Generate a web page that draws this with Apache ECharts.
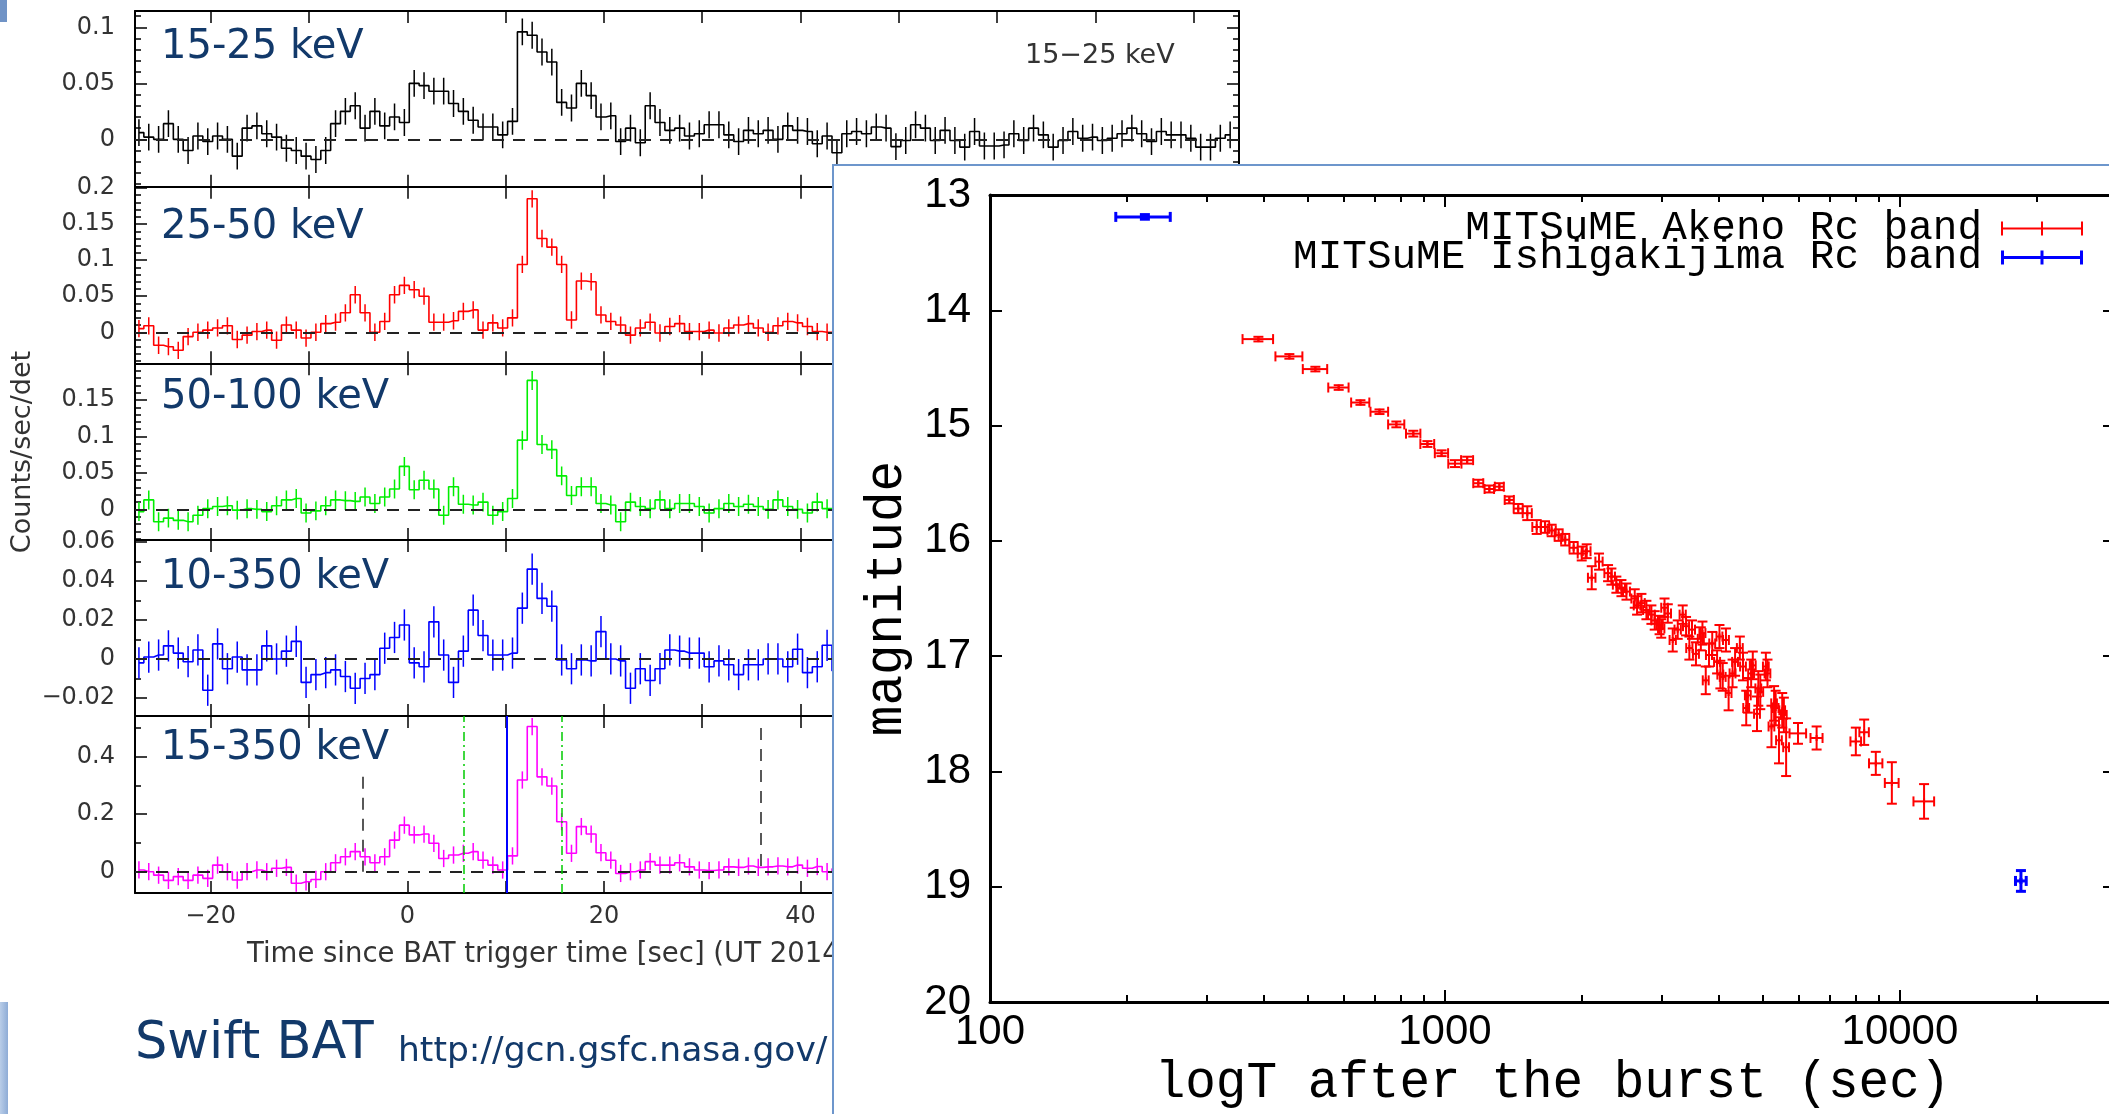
<!DOCTYPE html>
<html><head><meta charset="utf-8">
<script src="https://cdn.jsdelivr.net/npm/echarts@6/dist/echarts.min.js"></script>
<style>html,body{margin:0;padding:0;background:#fff}#c{width:2109px;height:1114px}</style>
</head><body><div id="c"></div>
<script>
// ---------------- Swift BAT light curves (1 s bins) ----------------
const firstBinCenter = -27.3;   // sec, centre of first bin
const binWidth = 1;             // sec
const batTimeMin = -27.7, batTimeMax = 84.6;
const batTimeTicks = [-20, -10, 0, 10, 20, 30, 40, 50, 60, 70, 80];
const batTimeLabels = [-20, 0, 20, 40, 60, 80];

const bat15_25 = [0.006, 0.002, 0.0, 0.014, 0.0, -0.01, 0.003, -0.002, 0.003, 0.0, -0.015, 0.01, 0.012, 0.005, 0.002, -0.008, -0.01, -0.015, -0.018, -0.01, 0.014, 0.025, 0.03, 0.01, 0.025, 0.012, 0.02, 0.015,
  0.05, 0.048, 0.043, 0.043, 0.032, 0.025, 0.017, 0.011, 0.011, 0.004, 0.016, 0.096, 0.093, 0.078, 0.069, 0.033, 0.028, 0.05, 0.039, 0.02, 0.021, -0.002, 0.01, -0.003, 0.03, 0.015, 0.008, 0.01, 0.003, 0.005, 0.013, 0.013, 0.004, -0.002, 0.008, 0.005, 0.008, 0.0, 0.012, 0.008, 0.007, -0.004, 0.003, -0.012,
  0.005, 0.007, 0.005, 0.011, 0.01, -0.0065, -0.001, 0.013, 0.01, -0.001, 0.008, -0.001, -0.007, 0.007, -0.006, -0.006, -0.005, 0.005, -0.001, 0.01, 0.004, -0.007, -0.001, 0.007, 0.001, 0.002, -0.001, 0.001, 0.005, 0.01, 0.005, -0.002, 0.007, 0.004, 0.004, 0.001, -0.007, -0.007, 0.001, 0.004];
const bat25_50 = [0.005, 0.009, -0.018, -0.02, -0.025, -0.006, 0.0, 0.003, 0.006, 0.009, -0.01, -0.004, 0.001, 0.003, -0.011, 0.01, 0.003, -0.008, 0.0, 0.012, 0.014, 0.027, 0.052, 0.027, 0.0, 0.015, 0.052, 0.065, 0.059, 0.05, 0.014, 0.014, 0.016, 0.029, 0.031, 0.003, 0.013, 0.006, 0.02, 0.094, 0.185, 0.13, 0.118, 0.094, 0.017, 0.071, 0.07, 0.024, 0.015, 0.01, -0.004, 0.006, 0.014, -0.001, 0.008, 0.012, 0.001, 0.001, 0.003, -0.001, 0.006, 0.01, 0.012, 0.006, 0.0, 0.009, 0.015, 0.013, 0.008, 0.001, 0.0, 0.002];
const bat50_100 = [-0.003, 0.013, -0.017, -0.012, -0.015, -0.017, -0.008, 0.001, 0.004, 0.005, -0.001, 0.001, 0.0, -0.003, 0.005, 0.013, 0.015, -0.005, -0.002, 0.005, 0.013, 0.012, 0.011, 0.017, 0.008, 0.017, 0.028, 0.059, 0.027, 0.04, 0.028, -0.008, 0.031, 0.007, 0.006, 0.01, -0.008, -0.003, 0.015,
  0.095, 0.177, 0.089, 0.082, 0.046, 0.019, 0.031, 0.031, 0.008, 0.006, -0.017, 0.01, 0.004, 0.001, 0.013, 0.001, 0.008, 0.008, 0.004, -0.005, 0.001, 0.008, 0.004, 0.007, 0.004, 0.0, 0.013, 0.004, 0.0, -0.005, 0.01, 0.001, 0.0];
const bat10_350 = [-0.002, 0.001, 0.002, 0.0067, 0.003, -0.0014, 0.0046, -0.016, 0.0077, -0.005, 0.001, -0.0056, -0.0056, 0.0067, 0.0, 0.004, 0.009, -0.012, -0.008, -0.007, -0.0056, -0.009, -0.015, -0.01, -0.008, 0.0055, 0.011, 0.0174,
  -0.002, -0.004, 0.019, 0.002, -0.012, 0.004, 0.025, 0.012, 0.002, 0.002, 0.003, 0.026, 0.046, 0.031, 0.027, -0.0005, -0.005, -0.0005, -0.001, 0.014, 0.0, -0.001, -0.015, -0.005, -0.011, -0.005, 0.0046, 0.004, 0.003, 0.003, -0.004, -0.001, -0.003, -0.008, -0.003, -0.003, 0.0, 0.0, -0.004, 0.005, -0.007, -0.004, 0.007, -0.006];
const bat15_350 = [0.006, 0.0, -0.012, -0.03, -0.017, -0.03, -0.012, -0.023, 0.023, 0.0, -0.029, 0.0, 0.006, 0.0, 0.012, 0.015, -0.04, -0.035, -0.027, 0.0, 0.031, 0.052, 0.07, 0.052, 0.031, 0.052, 0.11, 0.162, 0.128, 0.131, 0.099, 0.046, 0.058, 0.064, 0.07, 0.04, 0.023, 0.006, 0.055,
  0.319, 0.505, 0.33, 0.298, 0.174, 0.064, 0.157, 0.131, 0.066, 0.04, -0.006, 0.0, 0.006, 0.035, 0.023, 0.023, 0.031, 0.017, 0.006, 0.004, 0.006, 0.017, 0.015, 0.02, 0.015, 0.017, 0.02, 0.017, 0.023, 0.012, 0.018, 0.0, 0.01];
const batErr = { b15_25: 0.012, b25_50: 0.012, b50_100: 0.013, b10_350: 0.008, b15_350: 0.03 };
// vertical marker lines of the 15-350 keV panel (sec)
const t90Dashed = [[-4.5, 0.33], [35.95, 0.50]];
const dashDotTimes = [5.7, 15.68];
const triggerTime = 10.07;

// ---------------- MITSuME optical light curve ----------------
const akenoT = [389, 455, 519, 584, 652, 718, 782, 852, 915, 983, 1052, 1119, 1184, 1252, 1317, 1385, 1449, 1517, 1591, 1659, 1716, 1778, 1838, 1918, 1998, 2049, 2102, 2181, 2283, 2322, 2381, 2443, 2506, 2613, 2644, 2703, 2772, 2843, 2891, 2963, 2988, 3038, 3089, 3167, 3248, 3331, 3388, 3445, 3491, 3562, 3651, 3681, 3743, 3805, 3868, 3964, 4012, 4030, 4079, 4146, 4202, 4287, 4342, 4448, 4520, 4594, 4632, 4710, 4749, 4852, 4884, 4933, 5074, 5116, 5220, 5290, 5332, 5422, 5512, 5558, 5622, 5970, 6560, 8000, 8345, 8851, 9600, 11300];
const akenoMag = [14.25, 14.40, 14.51, 14.67, 14.80, 14.88, 14.99, 15.07, 15.16, 15.24, 15.33, 15.30, 15.50, 15.55, 15.53, 15.645, 15.72, 15.76, 15.88, 15.88, 15.91, 15.95, 15.99, 16.06, 16.11, 16.09, 16.32, 16.18, 16.28, 16.31, 16.38, 16.41, 16.44, 16.50, 16.56, 16.54, 16.60, 16.64, 16.69, 16.73, 16.76, 16.58, 16.63, 16.86, 16.77, 16.64, 16.74, 16.93, 16.77, 16.98, 16.85, 16.80, 17.21, 16.99, 16.89, 17.05, 16.83, 17.16, 17.18, 16.86, 17.32, 17.15, 17.05, 16.93, 17.09, 17.45, 17.34, 17.15, 17.08, 17.50, 17.28, 17.31, 17.09, 17.15, 17.61, 17.41, 17.45, 17.73, 17.47, 17.51, 17.79, 17.67, 17.71, 17.74, 17.66, 17.93, 18.10, 18.26];
const akenoTErr = [30, 31, 32, 30, 30, 32, 32, 31, 32, 33, 35, 34, 30, 30, 30, 32, 33, 35, 35, 36, 36, 36, 38, 40, 40, 40, 40, 40, 42, 42, 42, 44, 44, 44, 44, 46, 46, 48, 48, 48, 48, 50, 50, 50, 52, 52, 52, 54, 54, 54, 56, 56, 56, 58, 58, 60, 60, 60, 60, 62, 62, 64, 64, 66, 66, 68, 68, 70, 70, 72, 72, 72, 74, 74, 76, 76, 78, 78, 80, 80, 82, 250, 200, 215, 200, 300, 335, 590];
const akenoMagErr = [0.02, 0.02, 0.02, 0.02, 0.02, 0.02, 0.025, 0.025, 0.025, 0.025, 0.03, 0.03, 0.03, 0.03, 0.03, 0.03, 0.04, 0.06, 0.06, 0.05, 0.05, 0.05, 0.05, 0.05, 0.06, 0.06, 0.1, 0.07, 0.07, 0.07, 0.07, 0.07, 0.07, 0.08, 0.08, 0.08, 0.08, 0.08, 0.08, 0.08, 0.08, 0.08, 0.08, 0.1, 0.08, 0.08, 0.08, 0.1, 0.08, 0.1, 0.1, 0.1, 0.12, 0.1, 0.1, 0.1, 0.1, 0.12, 0.12, 0.1, 0.15, 0.12, 0.12, 0.1, 0.12, 0.15, 0.15, 0.12, 0.12, 0.15, 0.15, 0.15, 0.12, 0.12, 0.18, 0.15, 0.15, 0.2, 0.15, 0.15, 0.25, 0.09, 0.1, 0.12, 0.11, 0.1, 0.18, 0.15];
const ishiT = [219, 18450];
const ishiMag = [13.19, 18.95];
const ishiTErr = [30, 500];
const ishiMagErr = [0.02, 0.09];
const logMajor = [100, 1000, 10000];
const logMinor = [200, 300, 400, 500, 600, 700, 800, 900, 2000, 3000, 4000, 5000, 6000, 7000, 8000, 9000, 20000];

// ---------------- build ----------------
const centers = n => Array.from({length: n}, (_, i) => +(firstBinCenter + i * binWidth).toFixed(2));
const minus = v => String(v).replace('-', '\u2212');
const LBL = {fontFamily: 'DejaVu Sans', fontSize: 24, color: '#333'};

const panels = [
  {vals: bat15_25, err: batErr.b15_25, color: '#000000', top: 11, h: 175.7, min: -0.0423, max: 0.1146,
   major: [0, 0.05, 0.1], labels: [0, 0.05, 0.1], minor: [-0.04, -0.03, -0.02, -0.01, 0.01, 0.02, 0.03, 0.04, 0.06, 0.07, 0.08, 0.09, 0.11]},
  {vals: bat25_50, err: batErr.b25_50, color: '#ff0000', top: 186.7, h: 176.6, min: -0.043, max: 0.2018,
   major: [0, 0.05, 0.1, 0.15, 0.2], labels: [0, 0.05, 0.1, 0.15, 0.2], minor: [-0.04, -0.03, -0.02, -0.01, 0.01, 0.02, 0.03, 0.04, 0.06, 0.07, 0.08, 0.09, 0.11, 0.12, 0.13, 0.14, 0.16, 0.17, 0.18, 0.19]},
  {vals: bat50_100, err: batErr.b50_100, color: '#00ee00', top: 363.3, h: 176.7, min: -0.042, max: 0.2005,
   major: [0, 0.05, 0.1, 0.15, 0.2], labels: [0, 0.05, 0.1, 0.15], minor: [-0.04, -0.03, -0.02, -0.01, 0.01, 0.02, 0.03, 0.04, 0.06, 0.07, 0.08, 0.09, 0.11, 0.12, 0.13, 0.14, 0.16, 0.17, 0.18, 0.19]},
  {vals: bat10_350, err: batErr.b10_350, color: '#0000ff', top: 540, h: 176, min: -0.0292, max: 0.0609,
   major: [-0.02, 0, 0.02, 0.04, 0.06], labels: [-0.02, 0, 0.02, 0.04, 0.06], minor: [-0.01, 0.01, 0.03, 0.05]},
  {vals: bat15_350, err: batErr.b15_350, color: '#ff00ff', top: 716, h: 177, min: -0.074, max: 0.5416,
   major: [0, 0.2, 0.4], labels: [0, 0.2, 0.4], minor: [0.1, 0.3, 0.5]}
];
const bandNames = ['15-25 keV', '25-50 keV', '50-100 keV', '10-350 keV', '15-350 keV'];

const grid = [], xAxis = [], yAxis = [], series = [];
const AX = {color: '#000', width: 2};
panels.forEach((p, k) => {
  grid.push({left: 135, width: 1104, top: p.top, height: p.h, outerBoundsMode: 'none', containLabel: false});
  ['bottom', 'top'].forEach(pos => xAxis.push({
    gridIndex: k, type: 'value', min: batTimeMin, max: batTimeMax, position: pos,
    axisLine: {show: true, onZero: false, lineStyle: AX},
    axisTick: {show: true, inside: true, length: 12, customValues: batTimeTicks, lineStyle: {color: '#000', width: 1.5}},
    axisLabel: {show: pos === 'bottom' && k === 4, customValues: batTimeLabels, formatter: minus, margin: 12, ...LBL},
    splitLine: {show: false}
  }));
  [['left', true], ['left', false], ['right', true], ['right', false]].forEach(([pos, isMajor]) => yAxis.push({
    gridIndex: k, type: 'value', min: p.min, max: p.max, position: pos,
    axisLine: {show: isMajor, onZero: false, lineStyle: AX},
    axisTick: {show: true, inside: true, length: isMajor ? 12 : 6, customValues: isMajor ? p.major : p.minor, lineStyle: {color: '#000', width: 1.5}},
    axisLabel: {show: isMajor && pos === 'left', customValues: p.labels, formatter: minus, margin: 20, ...LBL},
    splitLine: {show: false}
  }));
  const ts = centers(p.vals.length);
  const markData = [{yAxis: 0, lineStyle: {type: [12, 9], color: '#222', width: 2}}];
  if (k === 4) {
    t90Dashed.forEach(([t, top]) => markData.push([{coord: [t, top], lineStyle: {type: [12, 9], color: '#222', width: 1.5}}, {coord: [t, 0]}]));
    dashDotTimes.forEach(t => markData.push({xAxis: t, lineStyle: {type: [9, 4, 2, 4], color: '#00cc00', width: 1.5}}));
    markData.push({xAxis: triggerTime, lineStyle: {type: 'solid', color: '#0000ff', width: 2}});
  }
  series.push({
    type: 'line', step: 'middle', xAxisIndex: 2 * k, yAxisIndex: 4 * k, showSymbol: false, symbol: 'none',
    data: ts.map((t, i) => [t, p.vals[i]]), lineStyle: {color: p.color, width: 1.6}, itemStyle: {color: p.color},
    markLine: {silent: true, symbol: ['none', 'none'], label: {show: false}, animation: false, data: markData}, z: 2
  });
  series.push({
    type: 'custom', xAxisIndex: 2 * k, yAxisIndex: 4 * k, clip: true, itemStyle: {color: p.color},
    data: ts.map((t, i) => [t, p.vals[i], p.err]),
    renderItem: (params, api) => {
      const t = api.value(0), v = api.value(1), e = api.value(2);
      const a = api.coord([t, v - e]), b = api.coord([t, v + e]);
      return {type: 'line', shape: {x1: a[0], y1: a[1], x2: b[0], y2: b[1]}, style: {stroke: p.color, lineWidth: 1.5}};
    }, z: 2
  });
});

// Right chart (grid 5)
grid.push({left: 990, top: 195, width: 1125, height: 807, outerBoundsMode: 'none', containLabel: false});
const RZ = 60;
const RAX = {color: '#000', width: 3};
const MONO = 'Liberation Mono';
[['bottom', true], ['bottom', false], ['top', true], ['top', false]].forEach(([pos, isMajor]) => xAxis.push({
  gridIndex: 5, type: 'log', logBase: 10, min: 100, max: 29700, position: pos, z: RZ,
  axisLine: {show: isMajor, onZero: false, lineStyle: RAX},
  axisTick: {show: true, inside: true, length: isMajor ? 12 : 7, customValues: isMajor ? logMajor : logMinor, lineStyle: {color: '#000', width: 2}},
  axisLabel: {show: isMajor && pos === 'bottom', customValues: logMajor, formatter: v => String(Math.round(v)), margin: 9, fontFamily: 'Liberation Sans', fontSize: 42, color: '#000'},
  splitLine: {show: false},
  name: (isMajor && pos === 'bottom') ? 'logT after the burst (sec)' : '', nameLocation: 'middle', nameGap: 47,
  nameTextStyle: {fontFamily: MONO, fontSize: 51, color: '#000'}
}));
[['left', true], ['right', false]].forEach(([pos, lab]) => yAxis.push({
  gridIndex: 5, type: 'value', inverse: true, min: 13, max: 20, interval: 1, position: pos, z: RZ,
  axisLine: {show: true, onZero: false, lineStyle: RAX},
  axisTick: {show: true, inside: true, length: 12, lineStyle: {color: '#000', width: 2}},
  axisLabel: {show: lab, margin: 19, fontFamily: 'Liberation Sans', fontSize: 42, color: '#000'},
  splitLine: {show: false},
  name: lab ? 'magnitude' : '', nameLocation: 'middle', nameGap: 74, nameRotate: 90,
  nameTextStyle: {fontFamily: MONO, fontSize: 51, color: '#000'}
}));

function errRender(lw) {
  return (params, api) => {
    const t = api.value(0), m = api.value(1), dt = api.value(2), dm = api.value(3);
    const col = api.visual('color');
    const l = api.coord([t - dt, m]), r = api.coord([t + dt, m]);
    const tp = api.coord([t, m - dm]), bt = api.coord([t, m + dm]);
    const c = api.coord([t, m]);
    const cap = 5, pm = 3;
    const L = (x1, y1, x2, y2) => ({type: 'line', shape: {x1, y1, x2, y2}, style: {stroke: col, lineWidth: lw}});
    return {type: 'group', children: [
      L(l[0], l[1], r[0], r[1]), L(l[0], l[1] - cap, l[0], l[1] + cap), L(r[0], r[1] - cap, r[0], r[1] + cap),
      L(tp[0], tp[1], bt[0], bt[1]), L(tp[0] - cap, tp[1], tp[0] + cap, tp[1]), L(bt[0] - cap, bt[1], bt[0] + cap, bt[1]),
      L(c[0], c[1] - pm, c[0], c[1] + pm)
    ]};
  };
}
series.push({
  name: 'MITSuME Akeno Rc band', type: 'custom', xAxisIndex: 10, yAxisIndex: 20, z: RZ + 1, clip: true,
  itemStyle: {color: '#ff0000'}, renderItem: errRender(2),
  data: akenoT.map((t, i) => [t, akenoMag[i], akenoTErr[i], akenoMagErr[i]])
});
series.push({
  name: 'MITSuME Ishigakijima Rc band', type: 'custom', xAxisIndex: 10, yAxisIndex: 20, z: RZ + 1, clip: true,
  itemStyle: {color: '#0000ff'}, renderItem: errRender(3),
  data: ishiT.map((t, i) => [t, ishiMag[i], ishiTErr[i], ishiMagErr[i]])
});

const NAVY = '#12396a';
const graphic = [
  {type: 'rect', shape: {x: 0, y: 0, width: 7, height: 22}, style: {fill: '#7093c6'}, z: 5},
  {type: 'rect', shape: {x: 0, y: 1002, width: 8, height: 112}, style: {fill: new echarts.graphic.LinearGradient(0, 0, 1, 0, [{offset: 0, color: '#b9cde8'}, {offset: 1, color: '#8eacd6'}])}, z: 5},
  ...bandNames.map((n, k) => ({type: 'text', x: 161, y: [47.5, 227.5, 397.5, 577.5, 749][k], z: 5,
    style: {text: n, fontFamily: 'DejaVu Sans', fontSize: 40, fill: NAVY, align: 'left', verticalAlign: 'middle'}})),
  {type: 'text', x: 1025, y: 56, z: 5, style: {text: '15\u221225 keV', fontFamily: 'DejaVu Sans', fontSize: 27, fill: '#333', align: 'left', verticalAlign: 'middle'}},
  {type: 'text', x: 247, y: 955, z: 5, style: {text: 'Time since BAT trigger time [sec] (UT 2014', fontFamily: 'DejaVu Sans', fontSize: 27.5, fill: '#333', align: 'left', verticalAlign: 'middle'}},
  {type: 'text', x: 23, y: 452, rotation: Math.PI / 2, z: 5, style: {text: 'Counts/sec/det', fontFamily: 'DejaVu Sans', fontSize: 27, fill: '#333', align: 'center', verticalAlign: 'middle'}},
  {type: 'text', x: 135, y: 1045, z: 5, style: {text: 'Swift BAT', fontFamily: 'DejaVu Sans', fontSize: 51, fill: NAVY, align: 'left', verticalAlign: 'middle'}},
  {type: 'text', x: 398, y: 1052, z: 5, style: {text: 'http://gcn.gsfc.nasa.gov/', fontFamily: 'DejaVu Sans', fontSize: 34.5, fill: NAVY, align: 'left', verticalAlign: 'middle'}},
  {type: 'rect', shape: {x: 833, y: 165, width: 1300, height: 970}, style: {fill: '#ffffff', stroke: '#6d96cc', lineWidth: 2}, z: 50}
];

const chart = echarts.init(document.getElementById('c'), null, {renderer: 'canvas'});
chart.setOption({
  animation: false,
  backgroundColor: '#ffffff',
  grid, xAxis, yAxis, series, graphic,
  legend: {
    z: RZ + 2, orient: 'vertical', right: 21, top: 203, align: 'right', itemGap: -12,
    itemWidth: 82, itemHeight: 16, selectedMode: false,
    textStyle: {fontFamily: MONO, fontSize: 41, color: '#000', padding: [0, 14, 0, 0]},
    data: [
      {name: 'MITSuME Akeno Rc band', icon: 'path://M0,7h82v2h-82z M0,1h2v14h-2z M40,1h2v14h-2z M80,1h2v14h-2z'},
      {name: 'MITSuME Ishigakijima Rc band', icon: 'path://M0,6.5h82v3h-82z M0,1h3v14h-3z M39.5,1h3v14h-3z M79,1h3v14h-3z'}
    ]
  }
});
</script></body></html>
